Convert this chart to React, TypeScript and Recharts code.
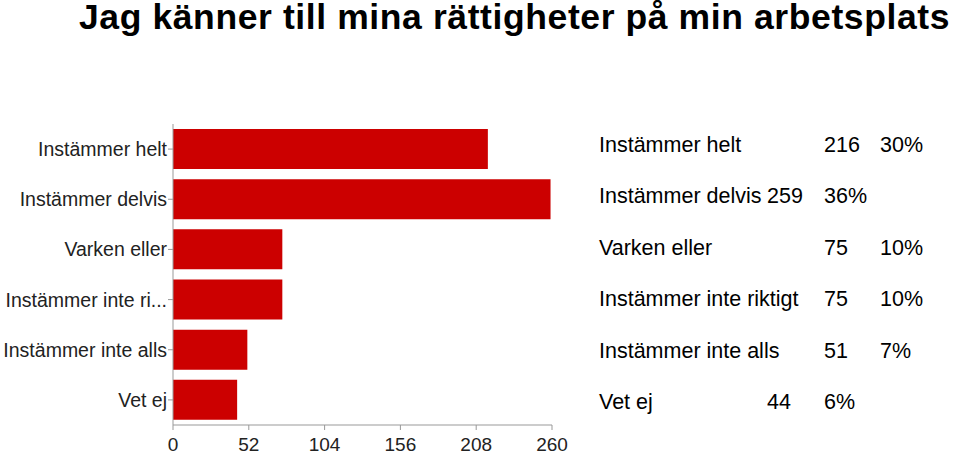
import { BarChart, Bar, XAxis, YAxis } from 'recharts'

const categories = [
  'Instämmer helt',
  'Instämmer delvis',
  'Varken eller',
  'Instämmer inte ri...',
  'Instämmer inte alls',
  'Vet ej',
]
const fullLabels = [
  'Instämmer helt',
  'Instämmer delvis',
  'Varken eller',
  'Instämmer inte riktigt',
  'Instämmer inte alls',
  'Vet ej',
]
const counts = [216, 259, 75, 75, 51, 44]
const percents = ['30%', '36%', '10%', '10%', '7%', '6%']
const xTicks = [0, 52, 104, 156, 208, 260]

const data = categories.map((name, i) => ({ name, value: counts[i] }))

// the source table's columns are not aligned row to row
const numX = [824, 767, 824, 824, 824, 767]
const pctX = [880, 824, 880, 880, 880, 824]

const font = 'Arial, "Liberation Sans", Helvetica, sans-serif'

export default function App() {
  return (
    <div style={{ position: 'absolute', left: 0, top: 0, width: 960, height: 455, background: '#fff', fontFamily: font }}>
      <svg width={960} height={40} style={{ position: 'absolute', left: 0, top: 0 }}>
        <text
          x={79}
          y={29}
          fontFamily={font}
          fontSize={35.5}
          fontWeight="bold"
          letterSpacing={0.6}
          fill="#000"
        >
          Jag känner till mina rättigheter på min arbetsplats
        </text>
      </svg>
      <div style={{ position: 'absolute', left: 0, top: 0 }}>
        <BarChart
          width={960}
          height={455}
          data={data}
          layout="vertical"
          margin={{ top: 124, right: 408, bottom: 0, left: 0 }}
          barCategoryGap="10%"
        >
          <XAxis
            type="number"
            domain={[0, 260]}
            ticks={xTicks}
            interval={0}
            height={30}
            stroke="#999"
            tickSize={5}
            tick={{ fill: '#222', fontSize: 19, fontFamily: font, dy: 6 }}
            tickMargin={2}
          />
          <YAxis
            type="category"
            dataKey="name"
            width={173}
            stroke="#999"
            tickSize={5}
            tickMargin={1}
            interval={0}
            tick={{ fill: '#222', fontSize: 19.5, fontFamily: font }}
          />
          <Bar dataKey="value" fill="#cc0000" isAnimationActive={false} />
        </BarChart>
      </div>
      <svg width={960} height={455} style={{ position: 'absolute', left: 0, top: 0, pointerEvents: 'none' }}>
        {fullLabels.map((label, i) => {
          const y = 152 + i * 51.4
          return (
            <g key={label} fontFamily={font} fontSize={21.5} fill="#000">
              <text x={599} y={y}>{label}</text>
              <text x={numX[i]} y={y}>{counts[i]}</text>
              <text x={pctX[i]} y={y}>{percents[i]}</text>
            </g>
          )
        })}
      </svg>
    </div>
  )
}
